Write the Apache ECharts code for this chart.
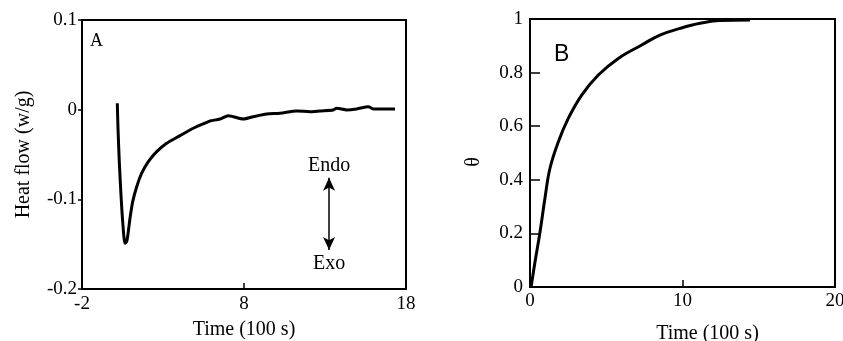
<!DOCTYPE html>
<html>
<head>
<meta charset="utf-8">
<script src="https://cdn.jsdelivr.net/npm/echarts@6/dist/echarts.min.js"></script>
<style>html,body{margin:0;padding:0;background:#fff}#c{width:843px;height:341px}</style>
</head>
<body>
<div id="c"></div>
<script>
// Panel A: heat flow vs time
var timeA = [0.179,0.222,0.302,0.407,0.512,0.654,0.759,0.858,0.963,1.130,1.377,1.685,2.093,2.611,3.228,4.049,4.870,5.698,5.901,6.519,7.031,7.340,7.957,8.574,9.401,10.222,11.253,12.074,12.691,13.512,13.722,14.340,14.957,15.673,15.981,17.321];
var heatA = [0.0071,-0.0207,-0.058,-0.0951,-0.1249,-0.149,-0.1472,-0.136,-0.1211,-0.1026,-0.0859,-0.0709,-0.058,-0.0468,-0.0375,-0.029,-0.0207,-0.0141,-0.0126,-0.0104,-0.0067,-0.0078,-0.0104,-0.0078,-0.0048,-0.004,-0.0014,-0.0022,-0.0014,-0.0003,0.0016,-0.0003,0.0008,0.0033,0.0008,0.0008];
// Panel B: theta vs time
var timeB = [0.07,0.33,0.66,0.98,1.31,1.86,2.51,3.39,4.48,5.79,7.32,8.52,9.84,11.15,12.46,14.43];
var thetaB = [0,0.094,0.206,0.331,0.443,0.542,0.629,0.716,0.791,0.853,0.903,0.940,0.965,0.984,0.994,0.996];
// tick labels
var xTicksA = [-2, 8, 18];
var yTicksA = [-0.2, -0.1, 0, 0.1];
var xTicksB = [0, 10, 20];
var yTicksB = [0, 0.2, 0.4, 0.6, 0.8, 1];
// annotation
var arrowX = 13.25, arrowTop = -0.076, arrowBottom = -0.1565;
var endoPos = [13.25, -0.0628], exoPos = [13.25, -0.172];

var serif = "'Liberation Serif','Times New Roman',serif";
function zip(a, b) { return a.map(function (v, i) { return [v, b[i]]; }); }

var chart = echarts.init(document.getElementById('c'), null, {renderer: 'canvas'});
chart.setOption({
  animation: false,
  backgroundColor: '#fff',
  grid: [
    {left: 82, right: 437, top: 20, bottom: 52, outerBoundsMode: 'none', containLabel: false, show: true, borderColor: '#000', borderWidth: 2, backgroundColor: 'transparent'},
    {left: 530, right: 8, top: 19, bottom: 54, outerBoundsMode: 'none', containLabel: false, show: true, borderColor: '#000', borderWidth: 2, backgroundColor: 'transparent'}
  ],
  xAxis: [
    {gridIndex: 0, type: 'value', min: -2, max: 18,
     name: 'Time (100 s)', nameLocation: 'middle', nameGap: 31,
     nameTextStyle: {fontFamily: serif, fontSize: 20, color: '#000'},
     axisLine: {onZero: false, lineStyle: {color: '#000', width: 2}},
     axisTick: {show: true, inside: true, length: 6, lineStyle: {color: '#000', width: 1.5}, customValues: xTicksA},
     axisLabel: {color: '#000', fontFamily: serif, fontSize: 19, margin: 6, customValues: xTicksA},
     splitLine: {show: false}},
    {gridIndex: 1, type: 'value', min: 0, max: 20,
     name: 'Time (100 s)', nameLocation: 'middle', nameGap: 37,
     nameTextStyle: {fontFamily: serif, fontSize: 20, color: '#000', padding: [0, 0, 0, 50]},
     axisLine: {onZero: false, lineStyle: {color: '#000', width: 2}},
     axisTick: {show: true, inside: true, length: 7, lineStyle: {color: '#000', width: 1.5}, customValues: xTicksB},
     axisLabel: {color: '#000', fontFamily: serif, fontSize: 19, margin: 5, customValues: xTicksB},
     splitLine: {show: false}}
  ],
  yAxis: [
    {gridIndex: 0, type: 'value', min: -0.2, max: 0.1,
     name: 'Heat flow (w/g)', nameLocation: 'middle', nameGap: 48,
     nameTextStyle: {fontFamily: serif, fontSize: 20, color: '#000'},
     axisLine: {onZero: false, lineStyle: {color: '#000', width: 2}},
     axisTick: {show: true, inside: false, length: 4, lineStyle: {color: '#000', width: 1.5}, customValues: yTicksA},
     axisLabel: {color: '#000', fontFamily: serif, fontSize: 19, margin: 5, customValues: yTicksA,
       formatter: function (v) { return String(Math.round(v * 10) / 10); }},
     splitLine: {show: false}},
    {gridIndex: 1, type: 'value', min: 0, max: 1,
     name: 'θ', nameLocation: 'middle', nameGap: 46,
     nameTextStyle: {fontFamily: serif, fontSize: 20, color: '#000', padding: [0, 18, 0, 0]},
     axisLine: {onZero: false, lineStyle: {color: '#000', width: 2}},
     axisTick: {show: true, inside: true, length: 10, lineStyle: {color: '#000', width: 1.5}, customValues: yTicksB},
     axisLabel: {color: '#000', fontFamily: serif, fontSize: 19, margin: 7, customValues: yTicksB,
       formatter: function (v) { return String(Math.round(v * 10) / 10); }},
     splitLine: {show: false}}
  ],
  series: [
    {type: 'line', xAxisIndex: 0, yAxisIndex: 0, data: zip(timeA, heatA),
     showSymbol: false, smooth: 0.25, lineStyle: {color: '#000', width: 3}, itemStyle: {color: '#000'},
     markLine: {silent: true, symbol: ['arrow', 'arrow'], symbolSize: [9, 13],
       lineStyle: {color: '#000', width: 1.5, type: 'solid'}, label: {show: false},
       data: [[{coord: [arrowX, arrowTop]}, {coord: [arrowX, arrowBottom]}]]},
     markPoint: {silent: true, symbol: 'circle', symbolSize: 0,
       label: {show: true, position: 'inside', color: '#000', fontFamily: serif, fontSize: 20},
       data: [
         {coord: endoPos, value: 'Endo', label: {formatter: 'Endo'}},
         {coord: exoPos, value: 'Exo', label: {formatter: 'Exo'}}
       ]}},
    {type: 'line', xAxisIndex: 1, yAxisIndex: 1, data: zip(timeB, thetaB),
     showSymbol: false, smooth: 0.4, lineStyle: {color: '#000', width: 3}, itemStyle: {color: '#000'}}
  ],
  graphic: [
    {type: 'text', left: 90, top: 32, style: {text: 'A', fontFamily: serif, fontSize: 18, fill: '#000'}},
    {type: 'text', left: 554, top: 43, style: {text: 'B', fontFamily: "'Liberation Sans',Arial,sans-serif", fontSize: 23, fill: '#000'}}
  ]
});
</script>
</body>
</html>
